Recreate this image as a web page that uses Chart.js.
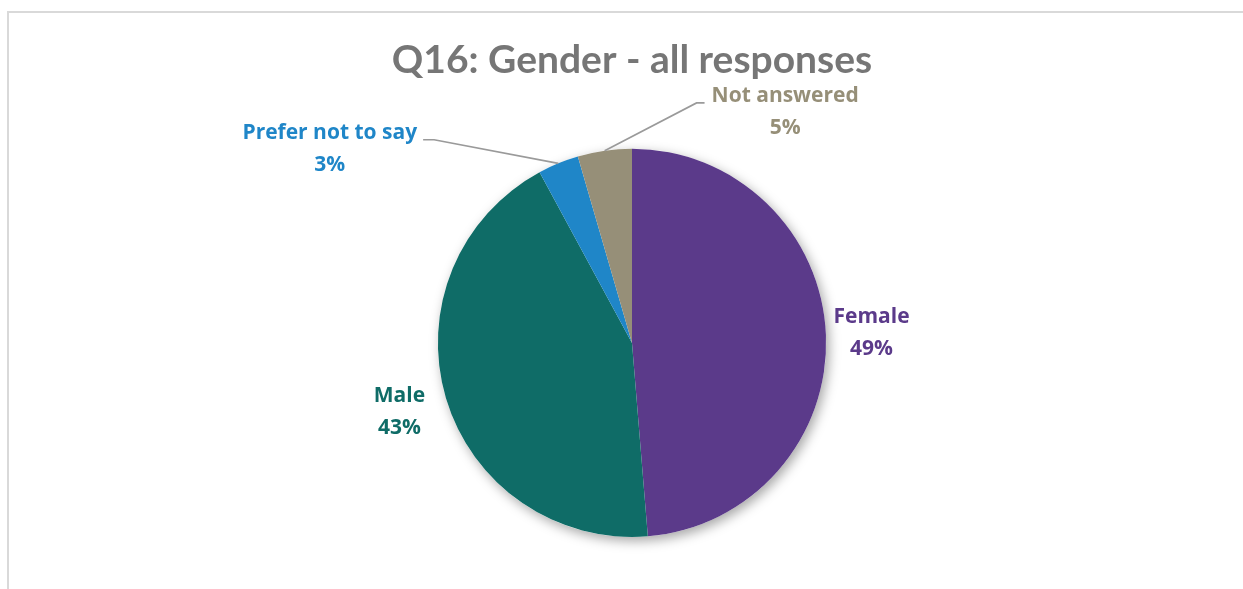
<!DOCTYPE html>
<html>
<head>
<meta charset="utf-8">
<script src="https://cdn.jsdelivr.net/npm/chart.js@4"></script>
<style>
  body { margin: 0; background: #fff; overflow: hidden; }
  #frame {
    position: absolute; left: 7px; top: 11px; width: 1300px; height: 700px;
    border-top: 2px solid #d9d9d9; border-left: 2px solid #d9d9d9;
  }
  #wrap { position: absolute; left: 0; top: 0; width: 1243px; height: 589px; }
</style>
</head>
<body>
<div id="frame"></div>
<div id="wrap"><canvas id="pie"></canvas></div>
<script>
// data
const categories = ['Female', 'Male', 'Prefer not to say', 'Not answered'];
const shares = [48.7, 43.4, 3.4, 4.5];
const pctLabels = ['49%', '43%', '3%', '5%'];
const colours = ['#5b3a8a', '#0f6c67', '#1f86c8', '#968f78'];

// where each label sits: 'mid' = along the slice middle, otherwise offset (in radii) with a leader line
const labelPlace = [
  { mode: 'mid', dist: 1.235 },
  { mode: 'mid', dist: 1.25 },
  { mode: 'leader', dx: -1.557, dy: -1.0, side: 'left' },
  { mode: 'leader', dx: 0.789, dy: -1.19, side: 'right' }
];

const FONT = 'bold 21px "Open Sans", Lato, sans-serif';

// soft shadow under the pie
const pieShadow = {
  id: 'pieShadow',
  beforeDatasetsDraw(chart) {
    const arc = chart.getDatasetMeta(0).data[0];
    if (!arc) return;
    const ctx = chart.ctx;
    ctx.save();
    ctx.shadowColor = 'rgba(0,0,0,0.35)';
    ctx.shadowBlur = 12;
    ctx.shadowOffsetX = 3;
    ctx.shadowOffsetY = 4;
    ctx.fillStyle = '#fff';
    ctx.beginPath();
    ctx.arc(arc.x, arc.y, arc.outerRadius, 0, Math.PI * 2);
    ctx.fill();
    ctx.restore();
  }
};

// data labels with leader lines
const sliceLabels = {
  id: 'sliceLabels',
  afterDatasetsDraw(chart) {
    const ctx = chart.ctx;
    const arcs = chart.getDatasetMeta(0).data;
    ctx.save();
    ctx.font = FONT;
    ctx.textAlign = 'center';
    ctx.textBaseline = 'middle';
    arcs.forEach((arc, i) => {
      const p = labelPlace[i];
      const r = arc.outerRadius;
      const mid = (arc.startAngle + arc.endAngle) / 2;
      let cx, cy;
      if (p.mode === 'mid') {
        cx = arc.x + Math.cos(mid) * r * p.dist;
        cy = arc.y + Math.sin(mid) * r * p.dist;
      } else {
        cx = arc.x + p.dx * r;
        cy = arc.y + p.dy * r;
      }
      const y1 = cy - 16, y2 = cy + 16;
      if (p.mode === 'leader') {
        const w = ctx.measureText(categories[i]).width;
        const rimX = arc.x + Math.cos(mid) * r;
        const rimY = arc.y + Math.sin(mid) * r;
        let sx, ex;
        if (p.side === 'left') { sx = cx + w / 2 + 6; ex = sx + 11; }
        else { sx = cx - w / 2 - 7; ex = sx - 8; }
        ctx.strokeStyle = '#9a9a9a';
        ctx.lineWidth = 1.6;
        ctx.beginPath();
        ctx.moveTo(sx, y1 + 7);
        ctx.lineTo(ex, y1 + 7);
        ctx.lineTo(rimX, rimY);
        ctx.stroke();
      }
      ctx.fillStyle = colours[i];
      ctx.fillText(categories[i], cx, y1);
      ctx.fillText(pctLabels[i], cx, y2);
    });
    ctx.restore();
  }
};

new Chart(document.getElementById('pie'), {
  type: 'pie',
  data: {
    labels: categories,
    datasets: [{
      data: shares,
      backgroundColor: colours,
      borderWidth: 0
    }]
  },
  options: {
    responsive: true,
    maintainAspectRatio: false,
    animation: false,
    events: [],
    layout: { padding: { left: 21, right: 0, top: 0, bottom: 52 } },
    plugins: {
      legend: { display: false },
      tooltip: { enabled: false },
      title: {
        display: true,
        text: 'Q16: Gender - all responses',
        color: '#767676',
        font: { family: 'Lato, "Open Sans", sans-serif', size: 39, weight: 'bold', lineHeight: 1.2 },
        padding: { top: 37, bottom: 65 }
      }
    }
  },
  plugins: [pieShadow, sliceLabels]
});
</script>
</body>
</html>
